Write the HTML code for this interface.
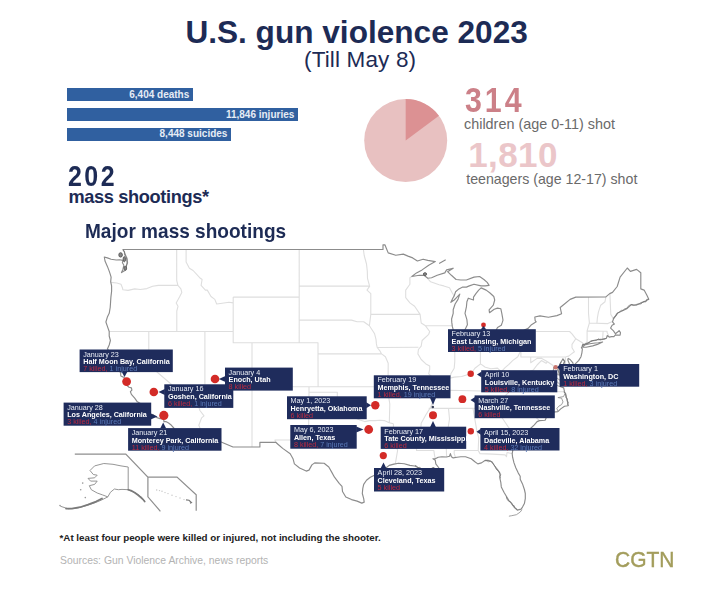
<!DOCTYPE html>
<html><head><meta charset="utf-8"><title>U.S. gun violence 2023</title>
<style>
html,body{margin:0;padding:0;background:#fff;}
body{width:720px;height:598px;position:relative;overflow:hidden;font-family:"Liberation Sans",Arial,sans-serif;}
.t{position:absolute;white-space:nowrap;line-height:1;}
.abs{position:absolute;}
.bar{position:absolute;}
.bl{text-align:right;color:#e6ecf5;font-weight:bold;}
.lb{position:absolute;background:#1f2d5c;}
.lt{font-size:7.2px;filter:blur(0.25px);}
</style></head><body>
<svg class="abs" style="left:0;top:0" width="720" height="598" viewBox="0 0 720 598"><path d="M111.1,282.4L116.8,283.0L121.0,284.2L122.4,287.7L122.9,289.8L128.1,290.4L134.7,288.9L140.3,289.5L146.9,288.6L152.6,286.3L158.3,285.4L177.9,285.4M176.7,249.5L176.7,280.3L177.9,285.4L180.9,288.9L181.8,292.4L179.5,297.1L176.2,302.9L178.0,306.3L176.8,311.0L176.8,331.5M109.2,331.5L233.2,331.5M148.8,331.5L148.8,365.0L199.4,408.4L199.9,410.5L204.0,415.8L201.6,417.9L198.8,425.3L200.7,429.6L198.6,432.5M199.4,408.4L198.8,403.0L198.8,397.1L204.9,395.5L204.9,386.8M204.9,331.5L204.9,386.8M204.9,386.8L388.0,386.8M252.0,342.8L252.0,386.8M252.0,386.8L252.0,447.0M309.0,386.8L309.0,392.3L308.5,440.0L274.9,440.0L275.8,442.3M186.1,249.5L186.1,261.9L189.4,268.2L193.1,270.5L199.7,277.7L202.1,279.5L201.1,285.4L205.4,290.1L207.3,290.1L211.0,296.5L214.8,299.4L216.7,304.0L220.5,303.5L228.9,302.3L233.2,302.9M233.2,297.1L233.2,342.8L252.0,342.8M233.2,297.1L299.2,297.1M252.0,342.8L318.0,342.8L318.0,353.9M299.2,249.5L299.2,342.8M318.0,353.9L318.1,386.8M318.0,353.9L381.6,353.9M299.2,286.1L369.7,286.1M299.2,320.1L351.5,320.1L357.1,321.8L363.7,321.8L369.4,325.8M363.4,249.5L364.2,255.5L366.5,264.0L367.3,271.1L367.5,278.3L369.4,285.4L369.7,286.1L367.0,290.1L370.8,293.6L370.8,314.4M370.8,314.4L420.1,314.4M370.8,314.4L369.4,325.8L371.7,329.2L374.6,333.8L376.0,339.4L376.4,343.9L377.2,347.5L379.7,350.6L381.6,353.9M377.2,347.5L418.4,347.2M381.6,353.9L385.4,356.7L388.2,363.3L388.0,392.3M309.0,392.3L337.3,392.3L337.3,413.0L341.1,415.0L344.9,415.3L350.5,417.7L355.2,417.9L359.9,420.1L364.7,421.6L369.4,420.6L375.0,420.6L379.7,420.3L384.4,420.6L389.2,422.7L393.4,423.8M388.0,392.3L389.8,404.1L389.3,422.8M393.4,423.8L393.5,429.3L420.7,429.6M393.5,429.3L393.5,440.0L395.8,444.2L397.6,450.5L396.7,455.6L395.3,463.9M388.0,392.3L430.2,392.3L430.6,397.6L434.4,397.6M411.8,276.5L409.9,277.7L409.9,284.2L405.7,290.1L405.7,297.6L409.9,302.9L414.6,306.3L420.1,314.4L421.2,323.0L425.5,325.8L429.7,331.5L428.7,334.3L422.1,340.5L421.2,346.1L418.4,349.5L417.9,353.9L421.2,359.5L425.9,363.9L429.7,366.1L429.7,369.4L428.7,373.8L433.5,378.1L436.3,383.6L439.1,386.8L436.3,392.3L434.4,397.6L430.6,407.3L425.9,414.8L421.2,423.2L420.7,429.6L421.2,435.9L418.4,441.1L416.5,446.3L416.5,450.5L433.9,450.5L434.4,454.6L435.3,458.7M425.5,325.8L452.3,325.8M454.2,295.9L452.3,293.0L449.5,287.7L443.8,285.9L439.1,284.8L430.6,281.8L427.8,278.6M454.8,334.7L454.8,361.1L454.2,368.3L450.9,373.8L449.9,378.1M439.6,386.8L445.7,386.1L449.9,378.1L454.2,377.1L461.7,376.5L466.4,374.9L471.6,373.0L474.9,368.3L480.6,363.9L485.3,367.2L490.9,368.8L497.5,368.1L501.3,371.6L505.1,367.7L508.9,364.4L512.6,360.6L517.8,356.7L520.2,351.7L520.9,346.8M480.4,334.9L480.4,363.9M459.8,334.2L480.6,334.2L493.3,334.6M520.9,331.5L520.9,357.0L565.4,357.0M530.7,357.0L530.7,362.8L537.1,358.4L541.8,358.4L547.5,361.7M436.3,392.3L449.8,392.3L449.9,390.3L490.9,391.2L564.5,391.7M490.9,391.2L497.5,387.9L501.3,384.7L503.2,382.0L501.3,374.1M503.2,382.0L507.9,380.9L509.8,384.7L516.4,383.0L523.0,381.4L524.9,377.1L529.6,371.6L533.4,369.9L537.1,365.0L541.4,360.6L546.1,363.3L547.5,361.7M547.5,361.7L553.1,365.5L554.1,368.3L552.2,371.6L557.9,374.9L560.7,376.5M485.1,408.4L488.1,405.2L492.8,402.5L498.5,398.2L505.1,396.0L509.8,391.2M428.7,408.4L485.1,408.4L496.6,408.4M496.6,408.4L503.2,406.2L516.0,406.8L517.3,407.3L518.3,410.5L528.6,410.5L539.5,420.6M496.6,408.4L499.4,413.7L505.1,422.2L507.9,426.4L511.7,431.7L515.5,439.0M473.0,408.4L476.8,430.6L478.7,437.9L478.2,450.5L480.0,453.6L492.8,454.1L505.1,454.9L506.5,456.7L507.0,452.5L512.2,453.6M478.2,450.5L454.2,450.5L454.2,453.6L455.6,457.7M448.5,408.4L449.5,419.0L446.0,441.1L446.6,456.7M528.1,328.4L528.1,331.5L569.6,331.5L572.0,333.8L575.8,338.8L582.4,342.8L583.3,343.9M575.8,338.8L572.0,344.4L572.0,347.8L574.4,351.7L571.5,353.9L568.7,356.1L565.4,357.0M565.4,357.0L565.5,370.9L572.5,371.0M588.5,297.1L588.5,313.3L589.4,323.0L587.1,330.9L587.1,341.6L585.7,342.8M605.9,296.9L605.0,301.7L600.7,305.2L598.4,312.1L597.4,317.8L596.9,323.2M589.4,323.0L607.8,323.6L612.5,321.6M609.9,293.6L610.8,314.4L613.5,319.0M587.1,330.9L603.1,331.3L607.1,331.3L607.1,332.6L608.8,336.0L609.5,337.1M603.1,331.3L602.6,339.1" fill="none" stroke="#dedede" stroke-width="1.1" stroke-linejoin="round"/><path d="M122.8,249.5L124.3,251.9L125.7,255.5L126.7,259.2L127.1,262.8L126.4,266.4L125.7,269.9L121.5,272.6L122.9,269.4L123.9,265.2L122.4,262.8L122.9,260.4L119.6,259.8L116.3,260.0L111.1,259.2L107.4,257.9L104.3,257.0L105.0,261.0L107.4,266.4L109.2,271.1L110.2,274.1L111.1,277.1L110.7,281.8L111.6,285.9L111.6,291.2L110.9,297.1L110.6,301.7L110.2,307.5L109.2,313.3L107.5,316.7L105.9,322.0L107.4,326.4L109.2,331.5L109.2,336.0L110.4,340.5L109.2,345.0L107.4,348.9L111.1,353.9L113.0,357.3L113.5,362.8L114.0,365.5L117.7,369.4L120.6,372.7L120.8,376.0L123.4,377.1L125.3,378.4L125.3,381.4L126.2,384.7L129.0,387.2L131.4,387.9L131.9,390.1L130.4,391.7L131.4,394.4L134.7,398.2L137.0,401.4L140.3,403.5L140.8,406.2L142.7,409.4L143.0,412.9L144.6,414.2L148.8,414.1L153.1,414.6L156.4,417.4L160.1,418.8L163.0,418.7L163.9,420.6L163.9,421.6L165.8,421.5L168.6,423.0L171.4,425.3L173.8,428.0L174.7,431.1L175.2,433.2L176.0,434.5L198.6,432.5L233.0,447.0L259.9,447.0L259.9,442.3L275.8,442.3L277.9,444.2L282.7,448.4L290.2,453.8L293.0,458.7L294.4,463.9L299.6,468.0L306.2,471.1L309.0,470.1L311.9,464.9L314.7,462.9L324.1,463.2L328.8,467.0L331.7,472.1L334.5,477.2L339.2,483.4L342.0,486.4L342.5,491.5L345.8,497.0L351.5,499.6L357.1,501.1L361.8,503.1L364.2,502.1L363.7,498.6L362.3,493.5L362.8,488.4L363.7,484.4L366.5,480.3L370.3,477.2L375.0,475.0L381.6,471.6L385.9,468.0L389.2,465.4L393.9,464.1L398.6,463.2L404.2,463.7L409.9,465.4L414.6,466.0L419.3,468.0L424.0,470.1L427.8,469.6L430.6,469.0L433.5,467.5L437.2,471.1L439.6,469.0L438.2,467.0L435.8,463.9L435.3,460.3L433.0,458.7L435.3,458.7L438.2,457.2L441.9,456.7L446.6,457.0L449.5,456.2L450.4,453.6L451.4,456.7L453.2,457.9L457.0,457.2L460.8,456.7L465.5,456.7L471.2,458.7L474.9,461.8L477.8,463.9L481.5,462.9L485.3,460.3L488.1,460.3L491.9,461.8L494.7,466.0L497.5,469.6L499.9,473.1L499.9,478.3L500.8,482.3L501.3,486.9L504.1,492.5L506.5,496.5L508.9,500.6L511.7,503.6L514.5,507.6L517.3,510.1L521.1,509.1L522.5,507.1L524.4,503.6L525.3,498.6L525.3,493.5L524.4,489.5L522.5,483.9L520.2,479.3L520.2,476.2L518.3,473.1L515.9,468.0L514.0,462.9L512.6,457.2L512.2,453.6L513.1,448.4L515.0,444.2L517.3,440.0L520.2,436.9L523.0,434.3L526.8,432.2L530.5,428.5L534.3,424.8L537.1,421.6L539.5,420.6L545.1,420.3L546.6,416.9L549.4,413.7L553.1,412.1L557.9,411.6L560.7,408.9L564.5,406.2L568.2,405.7L567.3,400.9L565.9,395.5L564.5,391.7L563.7,387.9L560.7,386.8L560.7,381.4L560.2,376.0L558.8,372.1L559.3,366.1L561.2,361.7L563.0,358.9L564.5,361.1L562.6,366.1L561.6,371.6L564.0,376.0L564.5,380.3L563.5,385.2L566.3,382.0L569.2,377.6L571.1,374.9L572.5,371.0L572.0,367.2L570.1,365.5L567.8,360.0L568.2,358.4L570.1,359.5L572.9,362.8L573.4,365.8L575.8,363.3L578.6,360.6L581.0,356.7L581.9,352.8L582.4,348.9L581.4,347.8L582.4,346.1L582.8,344.4L584.7,344.4L587.6,343.3L590.8,341.1L595.6,340.0L598.4,339.6L602.6,339.1L606.4,338.3L607.3,335.5L609.2,337.1L611.6,336.6L613.9,336.6L615.4,334.9L620.1,335.2L620.5,332.6L619.1,330.7L618.2,331.5L615.4,333.8L613.5,330.9L610.6,328.1L612.1,325.3L614.4,324.1L612.5,321.8L613.5,319.0L615.4,316.1L618.2,312.7L622.0,311.0L626.7,308.7L631.4,304.6L636.1,305.2L640.8,302.9L645.5,301.1L648.8,299.2L646.9,295.3L644.1,290.1L640.8,288.9L640.8,272.7L636.6,269.4L630.4,271.4L627.3,268.0L620.1,277.1L617.2,286.5L612.5,292.4L609.7,293.6L605.9,296.9L575.8,297.1L570.1,299.4L564.5,304.0L560.2,307.5L561.6,313.8L556.9,315.6L548.4,317.3L540.0,315.9L534.8,317.0L535.2,320.7L536.2,321.8L531.5,324.7L528.1,328.4L521.1,331.5L514.5,334.3L509.8,337.1L504.1,338.0L500.4,337.7L493.3,334.9L495.7,330.9L497.5,327.5L501.3,325.3L502.3,322.4L503.0,320.1L501.8,313.3L500.8,308.7L497.5,308.1L494.2,309.2L489.5,312.7L489.1,309.8L493.3,305.2L494.7,300.0L493.8,296.5L490.0,293.0L486.2,290.1L481.1,287.9L478.7,290.1L475.9,293.6L473.5,297.1L473.5,300.0L468.3,298.2L466.9,301.7L466.4,306.9L465.0,313.3L466.9,319.6L467.4,324.7L464.6,330.4L461.3,334.3L458.0,335.8L454.7,334.7L453.7,331.5L452.3,326.4L451.8,322.4L451.6,319.0L453.2,313.3L453.2,309.8L455.1,304.0L458.0,299.4L459.8,294.1L457.0,297.1L454.2,300.0L450.9,302.3L452.8,298.2L454.2,295.9L455.6,291.8L458.9,288.9L462.7,287.1L466.4,287.1L469.3,285.9L474.0,284.2L481.1,285.9L485.3,285.9L489.1,285.4L487.2,282.4L483.9,279.5L479.6,276.5L474.0,277.1L466.4,280.0L460.8,280.0L456.1,279.5L451.4,275.3L447.6,271.7L453.2,268.2L446.6,269.9L444.8,272.9L437.2,275.3L431.6,277.7L427.8,278.3L424.0,275.3L419.3,275.3L411.8,276.5L416.5,272.9L422.1,269.9L428.7,265.2L435.3,261.6L427.8,260.4L423.1,259.2L417.4,261.0L412.7,257.9L408.0,256.1L403.3,254.1L395.8,255.3L388.2,252.9L386.3,248.3L384.9,244.8L383.0,244.8L383.0,249.5L122.8,249.5M582.4,347.2L586.1,347.2L592.7,345.9L597.4,344.4L602.6,342.0L598.4,342.8L595.1,343.0L589.9,343.7L584.7,345.0L582.4,347.2M439.1,263.4L445.7,259.8" fill="none" stroke="#8c8c8c" stroke-width="1.15" stroke-linejoin="round"/><path d="M74.8,454.2L125.8,454.2L147.9,477.1L177.0,477.1L196.2,494.8L196.2,510.8M147.9,477.1L147.9,496.8L160.4,511.3" fill="none" stroke="#8e8e8e" stroke-width="1.2"/><path d="M90.0,470.5L94.6,465.9L103.8,463.5L113.0,464.3L121.0,465.9L128.2,467.0L128.2,489.7L135.5,493.0L142.1,497.6L144.7,501.5M128.2,489.7L122.0,489.4L118.3,489.7L114.4,489.0L110.4,492.3L107.8,496.9L101.2,500.2L94.6,502.9L86.7,505.5L77.4,508.1L68.2,508.8L60.3,506.2M90.0,470.5L93.3,474.5L97.2,475.2L94.6,477.8L88.0,478.4L90.6,481.1L97.2,481.1L94.6,484.4L89.3,485.7L91.3,489.7L97.2,493.0L102.5,494.9L107.8,496.9" fill="none" stroke="#8a8a8a" stroke-width="0.9" stroke-linejoin="round"/><path d="M128.2,489.7L131.0,490.6L134.5,492.5L138.0,495.0L141.0,497.6L143.5,500.0L144.7,501.5M102.0,498.5L96.0,501.6L88.0,504.6L80.0,507.2L72.0,508.6L66.0,508.6" fill="none" stroke="#7a7a7a" stroke-width="1.7" stroke-linecap="round" stroke-linejoin="round"/><circle cx="82.7" cy="483.1" r="0.8" fill="#999"/><circle cx="80.7" cy="489.7" r="0.8" fill="#999"/><circle cx="85.3" cy="497.6" r="0.8" fill="#999"/><circle cx="60.0" cy="505.5" r="0.8" fill="#999"/><circle cx="156.7" cy="490.0" r="0.7" fill="#c4c4c4"/><circle cx="159.5" cy="490.6" r="0.7" fill="#c4c4c4"/><circle cx="162.0" cy="491.2" r="0.7" fill="#c4c4c4"/><circle cx="165.0" cy="492.6" r="0.7" fill="#c4c4c4"/><circle cx="168.0" cy="493.6" r="0.7" fill="#c4c4c4"/><circle cx="172.0" cy="495.2" r="0.7" fill="#c4c4c4"/><circle cx="176.0" cy="496.6" r="0.7" fill="#c4c4c4"/><circle cx="180.0" cy="498.0" r="0.7" fill="#c4c4c4"/><circle cx="184.0" cy="499.6" r="0.7" fill="#c4c4c4"/><path d="M186.0,499.8L189.0,500.2L191.5,502.5L190.0,503.3" fill="none" stroke="#777" stroke-width="1.2"/><path d="M560.7,376.0L557.9,374.3L554.6,372.7L553.6,371.0L553.6,367.2M560.7,380.9L557.9,378.7L555.0,376.5M559.7,384.1L557.9,382.5L556.0,380.9M560.7,386.8L557.9,385.8L554.1,384.1L550.3,383.0M560.2,372.7L557.9,371.0L556.9,367.7M564.0,373.2L562.1,371.0L564.0,369.4L561.6,367.7M557.9,411.0L556.9,408.4L558.8,406.2L561.6,404.6L563.0,401.9L561.6,398.2L557.9,397.6L563.5,396.6L564.9,393.9M522.0,509.6L520.2,512.1L516.4,514.7L511.7,515.7L508.9,516.2M571.1,374.9L569.6,376.0L567.3,379.2" fill="none" stroke="#8a8a8a" stroke-width="0.8" stroke-linejoin="round"/><ellipse cx="120.6" cy="254.9" rx="1.8" ry="2.2" fill="#888" stroke="#555" stroke-width="0.9"/><ellipse cx="124.3" cy="259.2" rx="1.2" ry="2.6" fill="#888" stroke="#555" stroke-width="0.9"/><ellipse cx="125.3" cy="268.2" rx="1.3" ry="2.0" fill="#888" stroke="#555" stroke-width="0.9"/><ellipse cx="425.0" cy="274.1" rx="1.6" ry="1.4" fill="#888" stroke="#555" stroke-width="0.9"/><path d="M613.2,318.8L614.1,317.0L616.0,316.0L616.4,313.8L618.2,312.7L619.8,311.7L621.2,310.4L623.3,310.3L624.6,308.7L626.6,308.6L627.7,306.7L629.3,305.4L631.4,304.5L633.7,305.5L635.8,304.6L637.5,304.1L639.3,304.0L641.1,303.9L642.4,302.6L643.9,301.6L646.0,301.9L646.7,299.4L648.8,299.2M562.5,359.3L564.8,361.3L564.4,363.0L563.8,364.7L562.9,366.2L561.7,367.8L562.5,369.9L561.5,371.7L562.2,373.2L563.4,374.4L563.9,376.0L565.0,378.1L565.2,380.5L564.7,382.1L563.5,383.5L563.5,385.2M560.6,386.8L560.4,385.0L560.8,383.2L560.6,381.4L560.2,379.6L560.9,377.7L560.6,375.8L559.1,374.2L558.9,372.1L559.0,370.1L559.8,368.2L559.7,366.3L559.9,363.7L561.2,361.7M563.6,392.0L565.8,393.4L566.0,395.5L565.9,397.4L567.4,398.9L567.3,400.9L568.4,402.3L567.6,404.1L568.2,405.7M485.2,460.8L486.9,460.8L488.4,461.7L490.3,461.1L491.6,462.0L492.7,463.3L493.7,464.7L494.8,465.9L495.6,468.1L496.9,470.0L498.8,471.3L499.6,473.2L500.8,474.8L499.9,476.6L500.4,478.3M506.3,496.7L506.9,499.0L508.4,501.0L510.6,501.8L511.8,503.5L512.4,505.1L514.3,505.8L514.6,507.6L516.3,508.4L517.3,510.1M414.9,465.3L416.5,465.9L417.6,467.8L419.6,467.4L421.1,468.3L422.5,469.2L424.1,470.7L425.8,469.1L427.8,469.5L429.7,469.0L431.8,468.8L433.1,467.9L434.3,469.2L436.2,469.6L437.2,471.1M122.9,249.4L124.6,251.8L124.4,254.0L124.9,255.7L126.8,257.2L127.3,259.1L127.4,260.9L127.6,262.9L126.8,264.6L126.2,266.3L126.5,268.2L125.7,269.9M581.8,345.4L584.7,344.3L586.1,343.4L587.8,342.9L589.7,342.6L590.9,341.4L592.7,340.7L594.7,340.6L596.6,340.3L598.3,338.8L600.1,340.1L601.7,339.6L603.3,339.5L604.9,339.1L606.4,338.3" fill="none" stroke="#6e6e6e" stroke-width="0.8" stroke-linejoin="round" opacity="0.85"/></svg>
<div class="t" style="left:185.40px;top:16.75px;font-size:31.6px;color:#1d2b55;font-weight:bold;">U.S. gun violence 2023</div><div class="t" style="left:304.00px;top:49.35px;font-size:22.5px;color:#1d2b55;font-weight:normal;letter-spacing:0.15px;">(Till May 8)</div><div class="bar" style="left:67px;top:88.2px;width:125.8px;height:13.2px;background:#3060a0"></div><div class="t bl" style="left:67px;width:122.3px;top:90.03px;font-size:10px;">6,404 deaths</div><div class="bar" style="left:67px;top:107.9px;width:230.8px;height:13.2px;background:#3060a0"></div><div class="t bl" style="left:67px;width:227.3px;top:109.73px;font-size:10px;">11,846 injuries</div><div class="bar" style="left:67px;top:127.6px;width:163.9px;height:13.2px;background:#3060a0"></div><div class="t bl" style="left:67px;width:160.4px;top:129.44px;font-size:10px;">8,448 suicides</div><div class="t" style="left:67.60px;top:162.08px;font-size:29.2px;color:#1d2b55;font-weight:bold;letter-spacing:2.9px;transform:scaleX(0.855);transform-origin:0 0;">202</div><div class="t" style="left:68.40px;top:187.79px;font-size:18.2px;color:#1d2b55;font-weight:bold;letter-spacing:-0.35px;">mass shootings*</div><div class="t" style="left:84.60px;top:221.16px;font-size:20.6px;color:#1d2b55;font-weight:bold;transform:scaleX(0.925);transform-origin:0 0;">Major mass shootings</div><svg class="abs" style="left:0;top:0" width="720" height="598" viewBox="0 0 720 598"><circle cx="405.7" cy="140.6" r="41.5" fill="#e8c1c1"/><path d="M405.7,140.6 L405.7,99.1 A41.5,41.5 0 0 1 438.94,115.75 Z" fill="#dc9193"/></svg><div class="t" style="left:464.60px;top:82.60px;font-size:34.5px;color:#cc8088;font-weight:bold;letter-spacing:3.35px;transform:scaleX(0.88);transform-origin:0 0;">314</div><div class="t" style="left:464.00px;top:116.51px;font-size:14.4px;color:#6a6a6a;font-weight:normal;">children (age 0-11) shot</div><div class="t" style="left:468.20px;top:136.67px;font-size:35.0px;color:#ebc6c9;font-weight:bold;letter-spacing:0.4px;">1,810</div><div class="t" style="left:466.20px;top:171.78px;font-size:14.2px;color:#6a6a6a;font-weight:normal;">teenagers (age 12-17) shot</div><div class="t" style="left:59.50px;top:533.00px;font-size:9.8px;color:#222;font-weight:bold;">*At least four people were killed or injured, not including the shooter.</div><div class="t" style="left:60.00px;top:555.50px;font-size:10.4px;color:#b3b3b3;font-weight:normal;">Sources: Gun Violence Archive, news reports</div><div class="t" style="left:614.80px;top:548.52px;font-size:22.3px;color:#a39d5c;font-weight:normal;transform:scaleX(0.94);transform-origin:0 0;-webkit-text-stroke:0.45px #a39d5c;">CGTN</div>
<svg class="abs" style="left:0;top:0" width="720" height="598" viewBox="0 0 720 598"><circle cx="126.6" cy="381.6" r="4.4" fill="#d32b27"/><polygon points="121.5,371.6 124.5,377.0 127.5,371.6" fill="#1f2c5c"/><rect x="79.6" y="349.5" width="93.2" height="22.6" fill="#1f2c5c"/><circle cx="215.0" cy="379.0" r="4.3" fill="#d32b27"/><polygon points="225.5,376.0 218.8,379.0 225.5,382.0" fill="#1f2c5c"/><rect x="225.0" y="367.6" width="67.8" height="23.0" fill="#1f2c5c"/><circle cx="153.8" cy="392.0" r="4.3" fill="#d32b27"/><polygon points="164.8,389.0 158.5,392.0 164.8,395.0" fill="#1f2c5c"/><rect x="164.3" y="384.3" width="69.0" height="23.6" fill="#1f2c5c"/><circle cx="163.8" cy="415.4" r="4.6" fill="#d32b27"/><polygon points="150.7,413.5 157.5,416.5 150.7,419.5" fill="#1f2c5c"/><rect x="63.6" y="402.6" width="87.6" height="23.1" fill="#1f2c5c"/><polygon points="160.2,428.6 163.2,422.5 166.2,428.6" fill="#1f2c5c"/><rect x="128.1" y="428.1" width="93.4" height="22.6" fill="#1f2c5c"/><circle cx="375.3" cy="405.3" r="4.2" fill="#d32b27"/><polygon points="366.2,402.3 371.0,405.3 366.2,408.3" fill="#1f2c5c"/><rect x="287.0" y="396.3" width="79.7" height="22.9" fill="#1f2c5c"/><circle cx="368.7" cy="429.5" r="4.4" fill="#d32b27"/><polygon points="356.2,426.5 363.5,429.5 356.2,432.5" fill="#1f2c5c"/><rect x="290.3" y="425.0" width="66.4" height="23.7" fill="#1f2c5c"/><circle cx="433.0" cy="415.2" r="4.0" fill="#d32b27"/><polygon points="430.0,397.8 433.0,405.0 436.0,397.8" fill="#1f2c5c"/><rect x="373.8" y="375.3" width="76.7" height="23.0" fill="#1f2c5c"/><polygon points="430.0,427.2 433.0,421.0 436.0,427.2" fill="#1f2c5c"/><rect x="380.7" y="426.7" width="85.5" height="22.2" fill="#1f2c5c"/><circle cx="383.3" cy="455.6" r="3.6" fill="#d32b27"/><polygon points="380.5,468.5 383.5,462.6 386.5,468.5" fill="#1f2c5c"/><rect x="374.0" y="468.0" width="70.2" height="23.5" fill="#1f2c5c"/><circle cx="483.5" cy="325.0" r="2.4" fill="#d32b27"/><polygon points="480.5,329.7 483.5,326.0 486.5,329.7" fill="#1f2c5c"/><rect x="448.0" y="329.2" width="87.8" height="22.8" fill="#1f2c5c"/><circle cx="470.7" cy="373.8" r="3.2" fill="#d32b27"/><polygon points="481.7,371.5 477.0,374.5 481.7,377.5" fill="#1f2c5c"/><rect x="481.2" y="370.2" width="76.1" height="22.1" fill="#1f2c5c"/><circle cx="462.4" cy="399.2" r="3.9" fill="#d32b27"/><polygon points="475.1,397.0 470.5,400.0 475.1,403.0" fill="#1f2c5c"/><rect x="474.6" y="395.4" width="80.2" height="22.8" fill="#1f2c5c"/><circle cx="470.8" cy="431.3" r="3.2" fill="#d32b27"/><polygon points="480.9,428.8 476.5,431.8 480.9,434.8" fill="#1f2c5c"/><rect x="480.4" y="428.0" width="79.1" height="22.5" fill="#1f2c5c"/><circle cx="555.7" cy="367.2" r="2.3" fill="#c9766e"/><polygon points="560.1,364.2 557.2,367.2 560.1,370.2" fill="#1f2c5c"/><rect x="559.6" y="364.0" width="79.6" height="22.7" fill="#1f2c5c"/><circle cx="432.8" cy="407.0" r="1.3" fill="#3a3f55"/></svg><div class="t lt" style="left:83.2px;top:350.61px;color:#e9edf6">January 23</div><div class="t lt" style="left:83.2px;top:358.11px;color:#fff;font-weight:bold">Half Moon Bay, California</div><div class="t lt" style="left:83.2px;top:365.01px;color:#bb2a40">7 killed, <span style="color:#5b7ab8">1 injured</span></div><div class="t lt" style="left:228.6px;top:368.71px;color:#e9edf6">January 4</div><div class="t lt" style="left:228.6px;top:376.21px;color:#fff;font-weight:bold">Enoch, Utah</div><div class="t lt" style="left:228.6px;top:383.11px;color:#bb2a40">8 killed</div><div class="t lt" style="left:167.9px;top:385.41px;color:#e9edf6">January 16</div><div class="t lt" style="left:167.9px;top:392.91px;color:#fff;font-weight:bold">Goshen, California</div><div class="t lt" style="left:167.9px;top:399.81px;color:#bb2a40">6 killed, <span style="color:#5b7ab8">1 injured</span></div><div class="t lt" style="left:67.2px;top:403.71px;color:#e9edf6">January 28</div><div class="t lt" style="left:67.2px;top:411.21px;color:#fff;font-weight:bold">Los Angeles, California</div><div class="t lt" style="left:67.2px;top:418.11px;color:#bb2a40">3 killed, <span style="color:#5b7ab8">4 injured</span></div><div class="t lt" style="left:131.7px;top:429.21px;color:#e9edf6">January 21</div><div class="t lt" style="left:131.7px;top:436.71px;color:#fff;font-weight:bold">Monterey Park, California</div><div class="t lt" style="left:131.7px;top:443.61px;color:#bb2a40">11 killed, <span style="color:#5b7ab8">9 injured</span></div><div class="t lt" style="left:290.6px;top:397.41px;color:#e9edf6">May 1, 2023</div><div class="t lt" style="left:290.6px;top:404.91px;color:#fff;font-weight:bold">Henryetta, Oklahoma</div><div class="t lt" style="left:290.6px;top:411.81px;color:#bb2a40">6 killed</div><div class="t lt" style="left:293.9px;top:426.11px;color:#e9edf6">May 6, 2023</div><div class="t lt" style="left:293.9px;top:433.61px;color:#fff;font-weight:bold">Allen, Texas</div><div class="t lt" style="left:293.9px;top:440.51px;color:#bb2a40">8 killed, <span style="color:#5b7ab8">7 injured</span></div><div class="t lt" style="left:377.4px;top:376.41px;color:#e9edf6">February 19</div><div class="t lt" style="left:377.4px;top:383.91px;color:#fff;font-weight:bold">Memphis, Tennessee</div><div class="t lt" style="left:377.4px;top:390.81px;color:#bb2a40">1 killed, <span style="color:#5b7ab8">19 injured</span></div><div class="t lt" style="left:384.3px;top:427.81px;color:#e9edf6">February 17</div><div class="t lt" style="left:384.3px;top:435.31px;color:#fff;font-weight:bold">Tate County, Mississippi</div><div class="t lt" style="left:384.3px;top:442.21px;color:#bb2a40">6 killed</div><div class="t lt" style="left:377.6px;top:469.11px;color:#e9edf6">April 28, 2023</div><div class="t lt" style="left:377.6px;top:476.61px;color:#fff;font-weight:bold">Cleveland, Texas</div><div class="t lt" style="left:377.6px;top:483.51px;color:#bb2a40">5 killed</div><div class="t lt" style="left:451.6px;top:330.31px;color:#e9edf6">February 13</div><div class="t lt" style="left:451.6px;top:337.81px;color:#fff;font-weight:bold">East Lansing, Michigan</div><div class="t lt" style="left:451.6px;top:344.71px;color:#bb2a40">3 killed, <span style="color:#5b7ab8">5 injured</span></div><div class="t lt" style="left:484.8px;top:371.31px;color:#e9edf6">April 10</div><div class="t lt" style="left:484.8px;top:378.81px;color:#fff;font-weight:bold">Louisville, Kentucky</div><div class="t lt" style="left:484.8px;top:385.71px;color:#bb2a40">5 killed, <span style="color:#5b7ab8">8 injured</span></div><div class="t lt" style="left:478.2px;top:396.51px;color:#e9edf6">March 27</div><div class="t lt" style="left:478.2px;top:404.01px;color:#fff;font-weight:bold">Nashville, Tennessee</div><div class="t lt" style="left:478.2px;top:410.91px;color:#bb2a40">6 killed</div><div class="t lt" style="left:484.0px;top:429.11px;color:#e9edf6">April 15, 2023</div><div class="t lt" style="left:484.0px;top:436.61px;color:#fff;font-weight:bold">Dadeville, Alabama</div><div class="t lt" style="left:484.0px;top:443.51px;color:#bb2a40">4 killed, <span style="color:#5b7ab8">32 injured</span></div><div class="t lt" style="left:563.2px;top:365.11px;color:#e9edf6">February 1</div><div class="t lt" style="left:563.2px;top:372.61px;color:#fff;font-weight:bold">Washington, DC</div><div class="t lt" style="left:563.2px;top:379.51px;color:#bb2a40">1 killed, <span style="color:#5b7ab8">3 injured</span></div>
</body></html>
